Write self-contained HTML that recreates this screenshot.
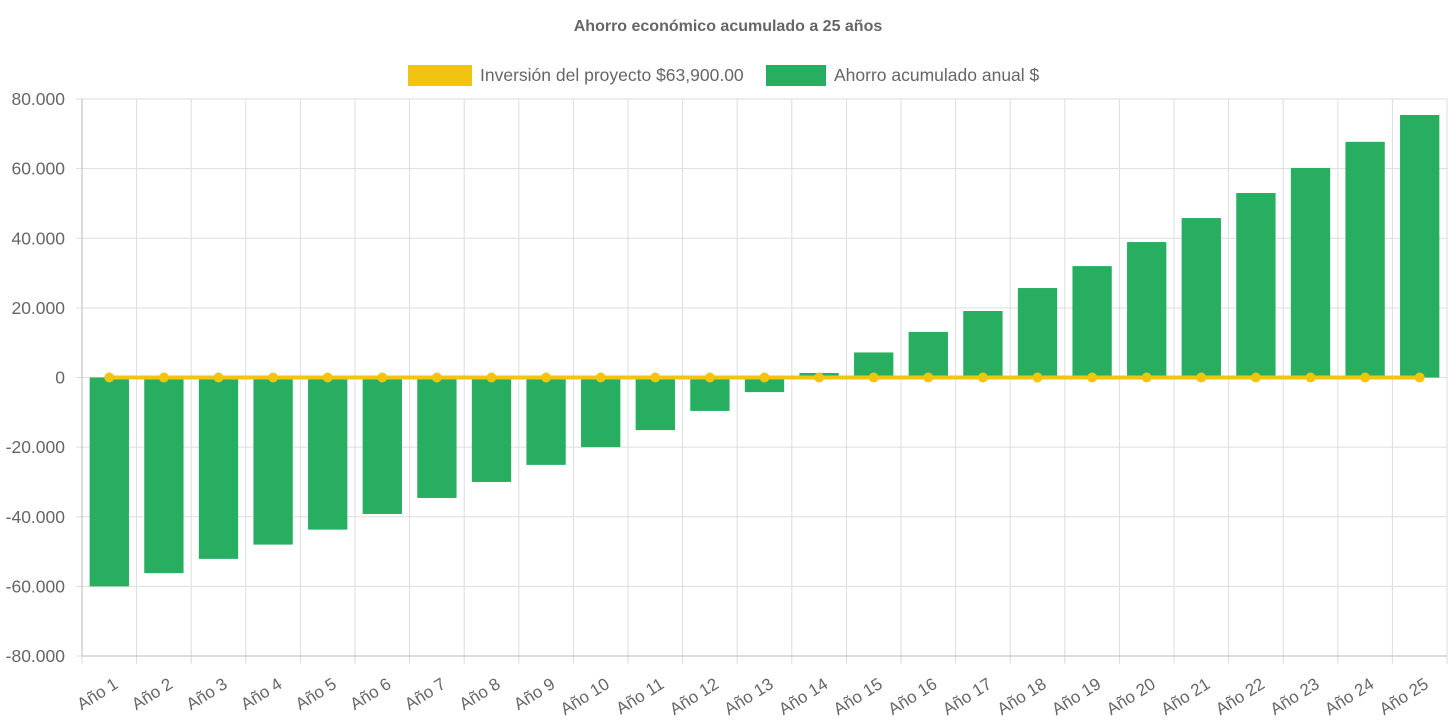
<!DOCTYPE html>
<html><head><meta charset="utf-8"><style>
body{margin:0;background:#fff;font-family:"Liberation Sans",Arial,sans-serif}
svg{display:block}
</style></head><body>
<svg id="chart" width="1456" height="727">
<text x="728" y="31" text-anchor="middle" font-size="16" font-weight="bold" fill="#666">Ahorro económico acumulado a 25 años</text>
<g>
<g><rect x="408" y="65" width="64" height="21" fill="#f1c40f"/><text x="480" y="81" font-size="17.5" fill="#666">Inversión del proyecto $63,900.00</text></g>
<g><rect x="766" y="65" width="60" height="21" fill="#27ae60"/><text x="834" y="81" font-size="17.5" fill="#666">Ahorro acumulado anual $</text></g>
</g>
<g id="grid"></g><g id="bars"></g><g id="line"></g><g id="axes"></g>
</svg>
<script>
const categories=[];for(let i=1;i<=25;i++)categories.push('Año '+i);
const savings=[-60000,-56200,-52100,-48000,-43700,-39200,-34600,-30000,-25100,-20000,-15100,-9600,-4200,1300,7200,13100,19100,25700,32000,38900,45800,53000,60200,67700,75400];
const investmentLine=[0,0,0,0,0,0,0,0,0,0,0,0,0,0,0,0,0,0,0,0,0,0,0,0,0];
const yTicks=[80000,60000,40000,20000,0,-20000,-40000,-60000,-80000];
const yTickLabels=['80.000','60.000','40.000','20.000','0','-20.000','-40.000','-60.000','-80.000'];
const NS='http://www.w3.org/2000/svg';
const L=82,R=1447,T=99,B=656,yMin=-80000,yMax=80000;
const band=(R-L)/categories.length;
const y=v=>T+(yMax-v)/(yMax-yMin)*(B-T);
const x=i=>L+band*(i+0.5);
function mk(tag,attrs,parent){const e=document.createElementNS(NS,tag);for(const k in attrs)e.setAttribute(k,attrs[k]);document.getElementById(parent).appendChild(e);return e;}
yTicks.forEach((t,i)=>{
 const g=mk('line',{x1:L-6,x2:R,y1:y(t),y2:y(t),stroke:'#ddd','stroke-width':1},'grid');
 
 
 const tx=mk('text',{x:L-17,y:y(t)+6,'text-anchor':'end','font-size':17.5,fill:'#666'},'axes');
 tx.textContent=yTickLabels[i];
 
 
});
for(let i=0;i<=categories.length;i++){
 const xx=L+band*i;
 const g=mk('line',{x1:xx,x2:xx,y1:T,y2:B+8,stroke:'#ddd','stroke-width':1},'grid');
 
 
}
mk('line',{x1:L,x2:L,y1:T,y2:B,stroke:'#bbb'},'axes');
mk('line',{x1:L,x2:R,y1:B,y2:B,stroke:'#bbb'},'axes');
const bw=band*0.72;
savings.forEach((v,i)=>{
 const r=mk('rect',{x:x(i)-bw/2,y:Math.min(y(v),y(0)),width:bw,height:Math.abs(y(v)-y(0)),fill:'#27ae60'},'bars');
 
 
 const tx=mk('text',{x:0,y:0,'text-anchor':'end','font-size':17,fill:'#666',transform:`translate(${x(i)+10},${B+31}) rotate(-32)`},'axes');
 tx.textContent=categories[i];
 
 
});
const pts=investmentLine.map((v,i)=>x(i)+','+y(v)).join(' ');
const pl=mk('polyline',{points:pts,fill:'none',stroke:'#f1c40f','stroke-width':4},'line');


investmentLine.forEach((v,i)=>{
 const c=mk('circle',{cx:x(i),cy:y(v),r:5,fill:'#f1c40f'},'line');
 
 
});
</script>
</body></html>
